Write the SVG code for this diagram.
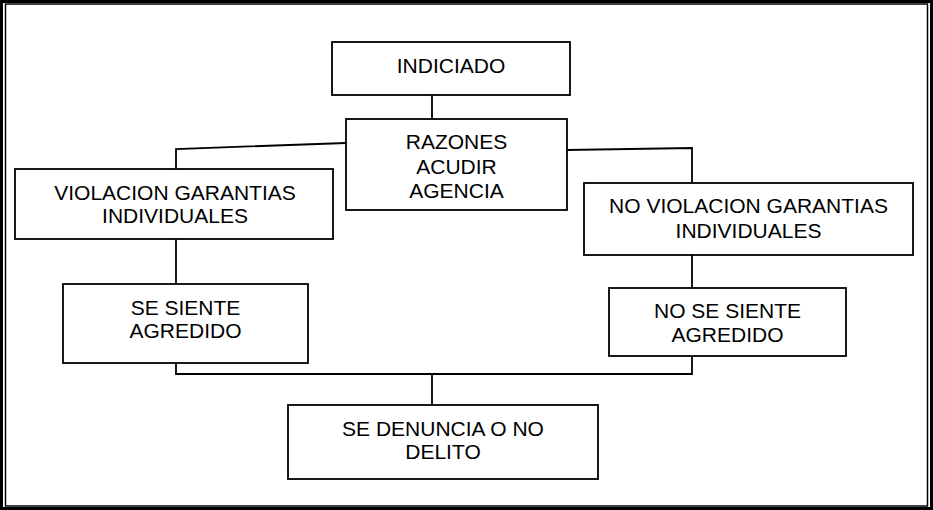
<svg xmlns="http://www.w3.org/2000/svg" width="933" height="510" viewBox="0 0 933 510">
<style>
.box{fill:#fff;stroke:#000;stroke-width:1.8}
.t{font-family:"Liberation Sans",Arial,sans-serif;font-size:21px;fill:#000;text-anchor:middle}
.c{fill:none;stroke:#000;stroke-width:1.8}
</style>
<rect width="933" height="510" fill="#fff"/>
<rect x="1.5" y="1.5" width="930" height="507" fill="none" stroke="#000" stroke-width="3"/>
<rect x="5.5" y="4" width="922" height="502" fill="none" stroke="#000" stroke-width="1.5"/>
<g id="connectors">
<line class="c" x1="432" y1="95" x2="432" y2="119"/>
<polyline class="c" points="346,143 176,149 176,169"/>
<polyline class="c" points="567,150 692,148 692,183"/>
<line class="c" x1="176" y1="239" x2="176" y2="284"/>
<line class="c" x1="692" y1="255" x2="692" y2="288"/>
<polyline class="c" points="176,360 176,374 692,374 692,351"/>
<line class="c" x1="432" y1="374" x2="432" y2="405"/>
</g>
<g id="indiciado">
<rect class="box" x="332" y="42" width="238" height="53"/>
<text class="t" x="451" y="73">INDICIADO</text>
</g>
<g id="razones">
<rect class="box" x="346" y="119" width="221" height="91"/>
<text class="t" x="456.5" y="149">RAZONES</text>
<text class="t" x="456.5" y="174">ACUDIR</text>
<text class="t" x="456.5" y="198">AGENCIA</text>
</g>
<g id="violacion">
<rect class="box" x="15" y="169" width="318" height="70"/>
<text class="t" x="175" y="200">VIOLACION GARANTIAS</text>
<text class="t" x="175" y="223">INDIVIDUALES</text>
</g>
<g id="no-violacion">
<rect class="box" x="584" y="183" width="329" height="72"/>
<text class="t" x="748.5" y="213">NO VIOLACION GARANTIAS</text>
<text class="t" x="748.5" y="238">INDIVIDUALES</text>
</g>
<g id="se-siente">
<rect class="box" x="63" y="284" width="245" height="79"/>
<text class="t" x="185.5" y="315">SE SIENTE</text>
<text class="t" x="185.5" y="338">AGREDIDO</text>
</g>
<g id="no-se-siente">
<rect class="box" x="609" y="288" width="237" height="68"/>
<text class="t" x="727.5" y="318">NO SE SIENTE</text>
<text class="t" x="727.5" y="342">AGREDIDO</text>
</g>
<g id="se-denuncia">
<rect class="box" x="288" y="405" width="310" height="74"/>
<text class="t" x="443" y="436">SE DENUNCIA O NO</text>
<text class="t" x="443" y="459">DELITO</text>
</g>
</svg>
